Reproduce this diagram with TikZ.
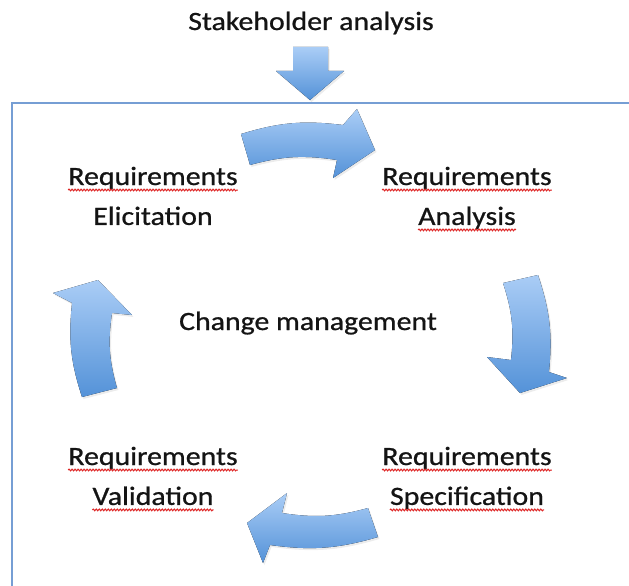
\documentclass[tikz,border=0pt]{standalone}
\usepackage{fontspec}
\setmainfont[FakeStretch=1.13,FakeBold=0.8]{Carlito}
\usepackage{tikz}
\usetikzlibrary{positioning,decorations.pathmorphing,shadows}
\definecolor{arrtop}{RGB}{170,205,246}
\definecolor{arrbot}{RGB}{84,146,216}
\definecolor{frameblue}{RGB}{118,158,212}
\definecolor{spellred}{RGB}{222,40,40}
\definecolor{inkgray}{RGB}{20,20,20}
\newcommand{\lblfont}{\fontsize{26.4}{39.5}\selectfont}
\tikzset{
  lbl/.style={font=\lblfont, text=inkgray, inner sep=0pt, text height=17pt, text depth=6pt},
  spell/.style={draw=spellred, line width=1pt, decorate,
                decoration={snake, amplitude=0.9pt, segment length=3pt}},
  blockarr/.style={top color=arrtop, bottom color=arrbot, draw=none,
                   drop shadow={opacity=0.15, shadow xshift=1.5pt, shadow yshift=-2pt}},
  frame/.style={draw=frameblue, line width=1.6pt},
}

\begin{document}
\begin{tikzpicture}[x=1pt, y=-1pt]
  \useasboundingbox (0,0) rectangle (629,586);
  \draw[frame] (12,586) |- (629,103);

  \node[lbl, anchor=base] (stake) at (311,30) {Stakeholder analysis};
  \node[lbl, anchor=base] (elicA) at (153,185) {Requirements};
  \node[lbl, below=16.5pt of elicA] (elicB) {Elicitation};
  \node[lbl, anchor=base] (anaA) at (467,185) {Requirements};
  \node[lbl, below=16.5pt of anaA] (anaB) {Analysis};
  \node[lbl, anchor=base] (valA) at (153,465) {Requirements};
  \node[lbl, below=16.5pt of valA] (valB) {Validation};
  \node[lbl, anchor=base] (specA) at (467,465) {Requirements};
  \node[lbl, below=16.5pt of specA] (specB) {Specification};
  \node[lbl, anchor=base] (change) at (308,330) {Change management};

  % spell-check squiggles
  \foreach \w in {elicA,anaA,anaB,valA,valB,specA,specB}
    \draw[spell] ([yshift=-5pt]\w.base west) -- ([yshift=-5pt]\w.base east);

  % feed-in arrow
  \fill[blockarr] (293,47) -- (328,47) -- (328,71) -- (344,71) -- (310,100)
    -- (276,71) -- (293,71) -- cycle;

  % cycle arrows
  \fill[blockarr] (241,134) to[bend left=12] (343,125) -- (357,109) -- (375,150)
    -- (333,178) -- (337,160) to[bend right=12] (250,165) -- cycle;
  \fill[blockarr] (503,283) -- (538,275) to[bend left=12] (549,372) -- (567,378)
    -- (520,393) -- (487,357) -- (511,360) to[bend right=12] cycle;
  \fill[blockarr] (368,508) -- (378,537) to[bend left=12] (270,545) -- (263,563)
    -- (247,523) -- (287,493) -- (282,513) to[bend right=12] cycle;
  \fill[blockarr] (82,397) -- (117,388) to[bend left=12] (112,313) -- (132,315)
    -- (98,280) -- (53,293) -- (72,303) to[bend right=12] cycle;
\end{tikzpicture}
\end{document}
